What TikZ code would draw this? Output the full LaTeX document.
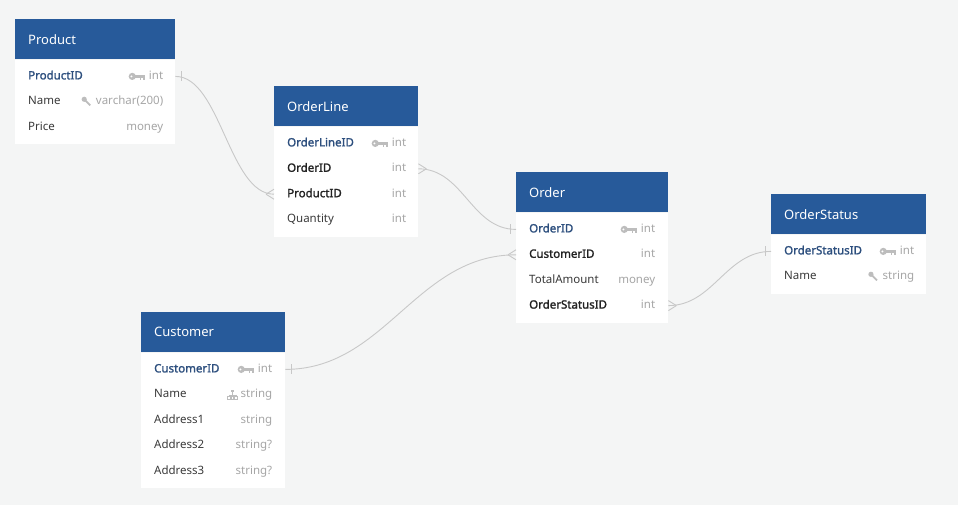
\documentclass[tikz,border=0pt]{standalone}
\usepackage{fontspec}
\setmainfont{Noto Sans}
\newfontfamily\keyfont{Noto Sans}[FakeBold=1.6]
\usepackage{tikz}
\usetikzlibrary{positioning}

\definecolor{canvas}{HTML}{F4F5F5}
\definecolor{headblue}{HTML}{275A9A}
\definecolor{pkblue}{HTML}{2D4F7E}
\definecolor{fieldtxt}{HTML}{3A3A3A}
\definecolor{fktxt}{HTML}{222222}
\definecolor{typetxt}{HTML}{A6A6A6}
\definecolor{linkgray}{HTML}{C8C8C8}
\definecolor{icongray}{HTML}{BDBDBD}

\tikzstyle{head} = [rectangle, fill=headblue, text=white, anchor=north west, minimum height=40pt, inner xsep=13pt, inner ysep=0pt, align=left, font=\fontsize{13}{15}\selectfont]
\tikzstyle{body} = [rectangle, fill=white, anchor=north west]
\tikzstyle{field} = [anchor=west, inner sep=0pt, text height=9pt, text depth=3pt, text=fieldtxt, font=\fontsize{11.5}{14}\selectfont]
\tikzstyle{pk} = [field, text=pkblue, font=\keyfont\fontsize{11.5}{14}\selectfont]
\tikzstyle{fk} = [field, text=fktxt, font=\keyfont\fontsize{11.5}{14}\selectfont]
\tikzstyle{datatype} = [anchor=east, inner sep=0pt, text height=9pt, text depth=3pt, text=typetxt, font=\fontsize{11.5}{14}\selectfont]
\tikzstyle{link} = [draw=linkgray, line width=0.9pt]

\tikzset{
  pkey/.pic={
    \fill[icongray] (-4.5,0) circle (3.6pt);
    \fill[white] (-5.3,0) circle (1.1pt);
    \fill[icongray] (-1.5,-1.4) rectangle (8,1.4);
    \fill[icongray] (3,-1.4) rectangle (4.6,-3.6);
    \fill[icongray] (6.2,-1.4) rectangle (7.8,-3.6);
  },
  idxkey/.pic={
    \fill[icongray] (-2.5,2.5) circle (2.6pt);
    \draw[icongray, line width=1.8pt] (-2.5,2.5) -- (3.5,-3.5);
  },
  tree/.pic={
    \fill[icongray] (-1.6,2.4) rectangle (1.6,5.2);
    \draw[icongray, line width=0.6pt] (0,2.4) -- (0,0) (-3.6,0) -- (3.6,0)
      (-3.6,0) -- (-3.6,-1.6) (0,0) -- (0,-1.6) (3.6,0) -- (3.6,-1.6);
    \draw[icongray, line width=0.6pt] (-4.9,-1.6) rectangle (-2.3,-4.4)
      (-1.3,-1.6) rectangle (1.3,-4.4) (2.3,-1.6) rectangle (4.9,-4.4);
  },
  many/.pic={\draw[link] (-8,0) -- (0,5) (-8,0) -- (0,-5);},
  one/.pic={\draw[link] (-6,5) -- (-6,-5);}
}

\begin{document}
\begin{tikzpicture}[x=1pt, y=1pt]
\path[use as bounding box, fill=canvas] (0,0) rectangle (958,-505);

% Product
\node (product) [head, text width=134pt] at (15,-19) {Product};
\node (product-body) [body, minimum width=160pt, minimum height=84pt] at (product.south west) {};
\node (p-productid) [pk] at ([xshift=13pt, yshift=-17pt]product-body.north west) {ProductID};
\node (p-name) [field, below=13pt of p-productid.south west, anchor=north west] {Name};
\node (p-price) [field, below=13pt of p-name.south west, anchor=north west] {Price};
\node (p-productid-t) [datatype] at ([xshift=-12pt]product-body.east |- p-productid) {int};
\node (p-name-t) [datatype] at ([xshift=-12pt]product-body.east |- p-name) {varchar(200)};
\node (p-price-t) [datatype] at ([xshift=-12pt]product-body.east |- p-price) {money};
\pic at ([xshift=-12pt]p-productid-t.west) {pkey};
\pic at ([xshift=-9pt]p-name-t.west) {idxkey};

% OrderLine
\node (orderline) [head, text width=118pt] at (274,-86) {OrderLine};
\node (orderline-body) [body, minimum width=144pt, minimum height=110pt] at (orderline.south west) {};
\node (ol-orderlineid) [pk] at ([xshift=13pt, yshift=-17pt]orderline-body.north west) {OrderLineID};
\node (ol-orderid) [fk, below=13pt of ol-orderlineid.south west, anchor=north west] {OrderID};
\node (ol-productid) [fk, below=13pt of ol-orderid.south west, anchor=north west] {ProductID};
\node (ol-quantity) [field, below=13pt of ol-productid.south west, anchor=north west] {Quantity};
\node (ol-orderlineid-t) [datatype] at ([xshift=-12pt]orderline-body.east |- ol-orderlineid) {int};
\node (ol-orderid-t) [datatype] at ([xshift=-12pt]orderline-body.east |- ol-orderid) {int};
\node (ol-productid-t) [datatype] at ([xshift=-12pt]orderline-body.east |- ol-productid) {int};
\node (ol-quantity-t) [datatype] at ([xshift=-12pt]orderline-body.east |- ol-quantity) {int};
\pic at ([xshift=-12pt]ol-orderlineid-t.west) {pkey};

% Order
\node (order) [head, text width=126pt] at (516,-172) {Order};
\node (order-body) [body, minimum width=152pt, minimum height=110pt] at (order.south west) {};
\node (o-orderid) [pk] at ([xshift=13pt, yshift=-17pt]order-body.north west) {OrderID};
\node (o-customerid) [fk, below=13pt of o-orderid.south west, anchor=north west] {CustomerID};
\node (o-total) [field, below=13pt of o-customerid.south west, anchor=north west] {TotalAmount};
\node (o-statusid) [fk, below=13pt of o-total.south west, anchor=north west] {OrderStatusID};
\node (o-orderid-t) [datatype] at ([xshift=-13pt]order-body.east |- o-orderid) {int};
\node (o-customerid-t) [datatype] at ([xshift=-13pt]order-body.east |- o-customerid) {int};
\node (o-total-t) [datatype] at ([xshift=-13pt]order-body.east |- o-total) {money};
\node (o-statusid-t) [datatype] at ([xshift=-13pt]order-body.east |- o-statusid) {int};
\pic at ([xshift=-12pt]o-orderid-t.west) {pkey};

% OrderStatus
\node (status) [head, text width=129pt] at (771,-194) {OrderStatus};
\node (status-body) [body, minimum width=155pt, minimum height=59pt] at (status.south west) {};
\node (s-statusid) [pk] at ([xshift=13pt, yshift=-17pt]status-body.north west) {OrderStatusID};
\node (s-name) [field, below=13pt of s-statusid.south west, anchor=north west] {Name};
\node (s-statusid-t) [datatype] at ([xshift=-12pt]status-body.east |- s-statusid) {int};
\node (s-name-t) [datatype] at ([xshift=-12pt]status-body.east |- s-name) {string};
\pic at ([xshift=-12pt]s-statusid-t.west) {pkey};
\pic at ([xshift=-9pt]s-name-t.west) {idxkey};

% Customer
\node (customer) [head, text width=118pt] at (141,-312) {Customer};
\node (customer-body) [body, minimum width=144pt, minimum height=135pt] at (customer.south west) {};
\node (c-customerid) [pk] at ([xshift=13pt, yshift=-17pt]customer-body.north west) {CustomerID};
\node (c-name) [field, below=13pt of c-customerid.south west, anchor=north west] {Name};
\node (c-address1) [field, below=13pt of c-name.south west, anchor=north west] {Address1};
\node (c-address2) [field, below=13pt of c-address1.south west, anchor=north west] {Address2};
\node (c-address3) [field, below=13pt of c-address2.south west, anchor=north west] {Address3};
\node (c-customerid-t) [datatype] at ([xshift=-13pt]customer-body.east |- c-customerid) {int};
\node (c-name-t) [datatype] at ([xshift=-13pt]customer-body.east |- c-name) {string};
\node (c-address1-t) [datatype] at ([xshift=-13pt]customer-body.east |- c-address1) {string};
\node (c-address2-t) [datatype] at ([xshift=-13pt]customer-body.east |- c-address2) {string?};
\node (c-address3-t) [datatype] at ([xshift=-13pt]customer-body.east |- c-address3) {string?};
\pic at ([xshift=-12pt]c-customerid-t.west) {pkey};
\pic at ([xshift=-8pt]c-name-t.west) {tree};

% Relations
\draw[link] (product-body.east |- p-productid) .. controls +(45,0) and +(-45,0) .. (orderline-body.west |- ol-productid);
\pic[xscale=-1] at (product-body.east |- p-productid) {one};
\pic at (orderline-body.west |- ol-productid) {many};

\draw[link] (orderline-body.east |- ol-orderid) .. controls +(45,0) and +(-45,0) .. (order-body.west |- o-orderid);
\pic[xscale=-1] at (orderline-body.east |- ol-orderid) {many};
\pic at (order-body.west |- o-orderid) {one};

\draw[link] (customer-body.east |- c-customerid) .. controls +(100,0) and +(-100,0) .. (order-body.west |- o-customerid);
\pic[xscale=-1] at (customer-body.east |- c-customerid) {one};
\pic at (order-body.west |- o-customerid) {many};

\draw[link] (order-body.east |- o-statusid) .. controls +(45,0) and +(-45,0) .. (status-body.west |- s-statusid);
\pic[xscale=-1] at (order-body.east |- o-statusid) {many};
\pic at (status-body.west |- s-statusid) {one};

\end{tikzpicture}
\end{document}
